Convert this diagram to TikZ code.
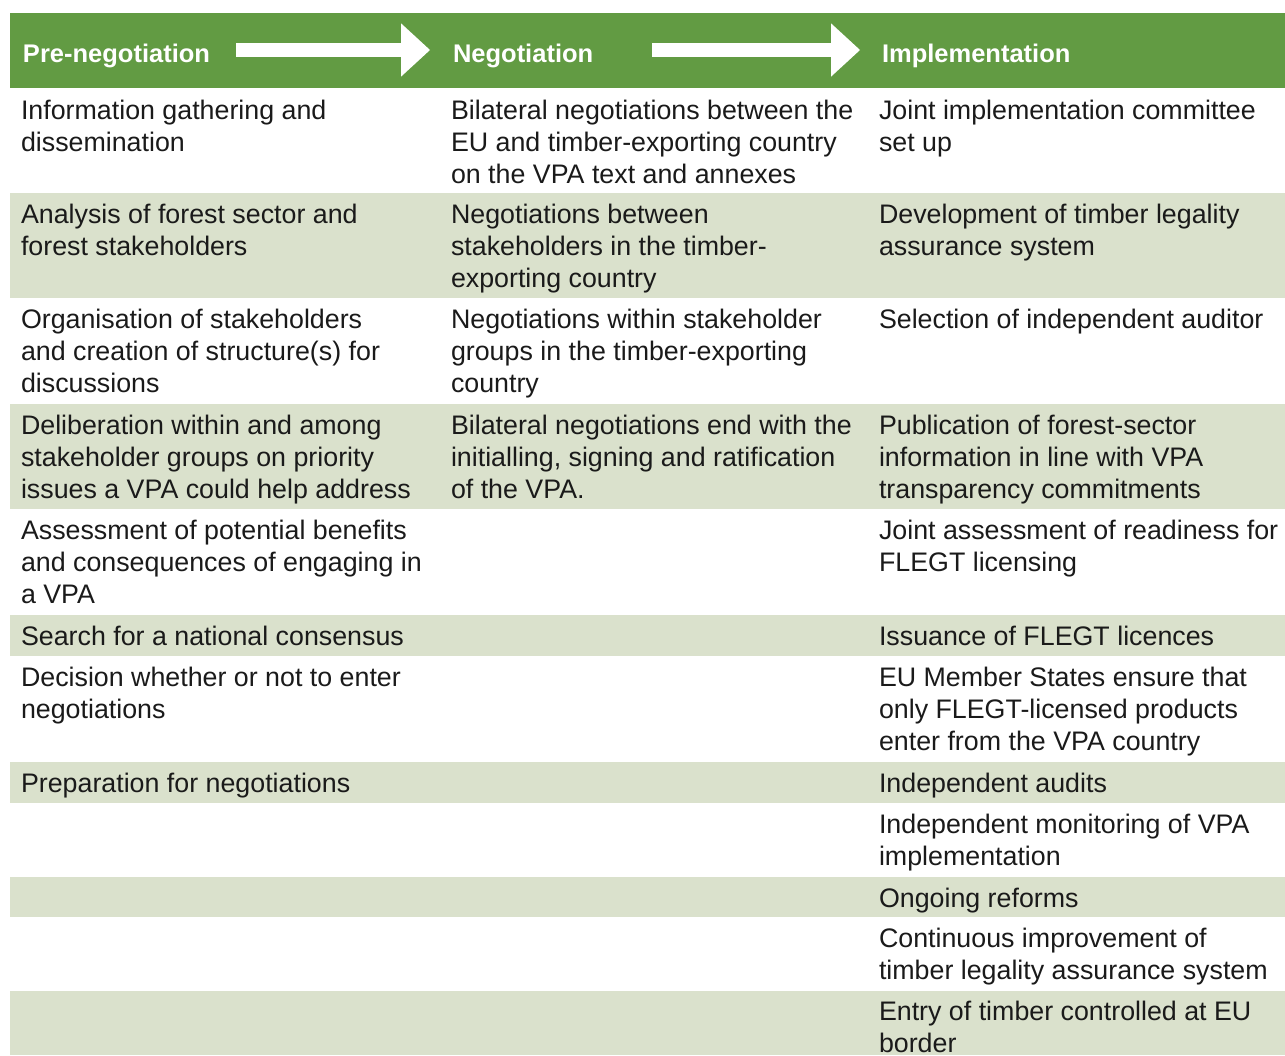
\documentclass[tikz,border=0pt]{standalone}
\usepackage{fontspec}
\setmainfont{Liberation Sans}
\usetikzlibrary{arrows.meta}
\definecolor{hdr}{RGB}{98,155,67}
\definecolor{band}{RGB}{218,225,204}
\definecolor{ink}{RGB}{26,26,26}
\begin{document}
\begin{tikzpicture}[x=1pt,y=-1pt,
  cell/.style={anchor=north west, inner sep=0pt, outer sep=0pt, align=left, text=ink,
    font=\fontsize{26.8}{32}\selectfont},
  head/.style={anchor=base west, inner sep=0pt, outer sep=0pt, text=white,
    font=\fontsize{25.5}{30}\selectfont\bfseries},
  flow/.style={draw=white, line width=13.4pt,
    -{Triangle[width=53.4pt,length=29pt,line width=0pt]}},
  bandfill/.style={fill=band}
]
\useasboundingbox (0,0) rectangle (1285,1055);
% header band
\fill[hdr] (10,13) rectangle (1285,88);
% light stripes
\foreach \t/\b in {193/298, 404/509, 615/656, 762/803, 877/917, 991/1055}
  \fill[bandfill] (10,\t) rectangle (1285,\b);
% header labels
\node[head] (h1) at (23,62) {Pre-negotiation};
\node[head] (h2) at (453,62) {Negotiation};
\node[head] (h3) at (882,62) {Implementation};
% header arrows
\coordinate (a1s) at (236,50);
\coordinate (a1e) at (430,50);
\coordinate (a2s) at (652,50);
\coordinate (a2e) at (860,50);
\draw[flow] (a1s) -- (a1e);
\draw[flow] (a2s) -- (a2e);
% row 1
\node[cell] (r1a) at (21,97.1) {\strut Information gathering and\\dissemination};
\node[cell] (r1b) at (451,97.1) {\strut Bilateral negotiations between the\\EU and timber-exporting country\\on the VPA text and annexes};
\node[cell] (r1c) at (879,97.1) {\strut Joint implementation committee\\set up};
% row 2
\node[cell] (r2a) at (21,201.1) {\strut Analysis of forest sector and\\forest stakeholders};
\node[cell] (r2b) at (451,201.1) {\strut Negotiations between\\stakeholders in the timber-\\exporting country};
\node[cell] (r2c) at (879,201.1) {\strut Development of timber legality\\assurance system};
% row 3
\node[cell] (r3a) at (21,306.1) {\strut Organisation of stakeholders\\and creation of structure(s) for\\discussions};
\node[cell] (r3b) at (451,306.1) {\strut Negotiations within stakeholder\\groups in the timber-exporting\\country};
\node[cell] (r3c) at (879,306.1) {\strut Selection of independent auditor};
% row 4
\node[cell] (r4a) at (21,412.1) {\strut Deliberation within and among\\stakeholder groups on priority\\issues a VPA could help address};
\node[cell] (r4b) at (451,412.1) {\strut Bilateral negotiations end with the\\initialling, signing and ratification\\of the VPA.};
\node[cell] (r4c) at (879,412.1) {\strut Publication of forest-sector\\information in line with VPA\\transparency commitments};
% row 5
\node[cell] (r5a) at (21,517.1) {\strut Assessment of potential benefits\\and consequences of engaging in\\a VPA};
\node[cell] (r5c) at (879,517.1) {\strut Joint assessment of readiness for\\FLEGT licensing};
% row 6
\node[cell] (r6a) at (21,623.1) {\strut Search for a national consensus};
\node[cell] (r6c) at (879,623.1) {\strut Issuance of FLEGT licences};
% row 7
\node[cell] (r7a) at (21,664.1) {\strut Decision whether or not to enter\\negotiations};
\node[cell] (r7c) at (879,664.1) {\strut EU Member States ensure that\\only FLEGT-licensed products\\enter from the VPA country};
% row 8
\node[cell] (r8a) at (21,770.1) {\strut Preparation for negotiations};
\node[cell] (r8c) at (879,770.1) {\strut Independent audits};
% row 9
\node[cell] (r9c) at (879,811.1) {\strut Independent monitoring of VPA\\implementation};
% row 10
\node[cell] (r10c) at (879,885.1) {\strut Ongoing reforms};
% row 11
\node[cell] (r11c) at (879,925.1) {\strut Continuous improvement of\\timber legality assurance system};
% row 12
\node[cell] (r12c) at (879,998.1) {\strut Entry of timber controlled at EU\\border};
\end{tikzpicture}
\end{document}
